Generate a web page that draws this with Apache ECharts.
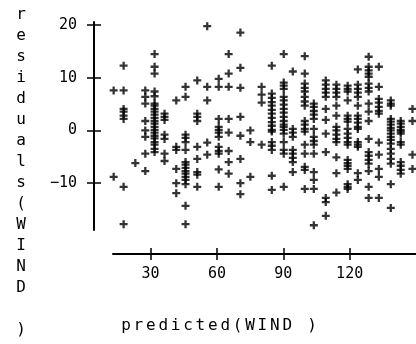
<!DOCTYPE html>
<html>
<head>
<meta charset="utf-8">
<script src="https://cdn.jsdelivr.net/npm/echarts@6/dist/echarts.min.js"></script>
<style>
html, body { margin: 0; padding: 0; background: #fff; }
#chart { width: 416px; height: 344px; }
</style>
</head>
<body>
<div id="chart"></div>
<script>
// predicted value of each column
const predicted = [13.3, 17.8, 23.1, 27.6, 31.8, 36.3, 41.6, 45.8, 51.1, 55.6,
  60.8, 65.3, 70.6, 75.1, 80.2, 84.8, 90.2, 94.3, 99.7, 103.8,
  109.2, 114.0, 119.1, 123.7, 128.6, 133.2, 138.6, 143.1, 148.4]
// residuals in each column (same order as predicted)
const residuals = [
  [7.6, -8.8],
  [12.3, 7.6, 4.1, 3.6, 2.8, 2.2, -10.7, -17.8],
  [-6.2],
  [7.6, 6.4, 5.1, 1.8, 0, -1.2, -4.4, -7.7],
  [14.5, 12.1, 10.8, 7.4, 6.5, 5.1, 4.7, 4.1, 3.6, 3.0, 2.4, 1.8, 1.3, 0.7, 0.1, -0.4, -1.0, -1.5, -2.2, -2.7, -3.5, -4.1],
  [3.2, 2.6, 2.0, -0.8, -1.6, -4.4, -5.8],
  [5.7, -3.1, -3.7, -7.3, -10.0, -11.9],
  [8.3, 6.4, -0.8, -1.4, -2.2, -3.7, -6.0, -6.5, -7.1, -7.7, -8.2, -8.8, -9.4, -10.2, -14.3, -17.8],
  [9.5, 3.2, 2.6, 1.8, -3.1, -5.4, -7.9, -8.4, -10.7],
  [19.8, 8.3, 5.7, -2.3, -4.6],
  [9.8, 8.3, 2.2, 0.7, 0.1, -0.4, -1.2, -3.1, -3.9, -4.4, -7.4, -10.7],
  [14.5, 10.8, 8.3, 2.2, -0.4, -3.9, -6.0, -8.2],
  [18.6, 11.9, 8.1, 2.6, -1.0, -5.4, -10.0, -12.1],
  [0, -2.2, -8.8],
  [8.3, 6.8, 5.3, -2.7],
  [12.3, 7.0, 6.2, 5.4, 4.7, 3.9, 3.2, 2.4, 1.6, 0.9, 0.1, -0.2, -2.2, -2.9, -3.7, -8.6, -11.3],
  [14.5, 9.1, 8.5, 7.9, 6.4, 5.7, 4.9, 4.1, 3.4, 2.6, 1.8, 1.1, 0.7, 0.1, -0.6, -2.2, -3.7, -4.4, -10.7],
  [11.2, 0.3, -0.4, -1.2, -3.7, -4.4, -5.2, -6.0, -7.9],
  [14.1, 10.8, 8.9, 8.1, 7.4, 6.4, 5.5, 4.7, 1.8, 1.1, 0.3, -0.2, -2.7, -4.4, -6.9, -7.5, -11.1],
  [5.1, 4.5, 3.7, 3.0, 2.2, 0.3, -1.2, -2.0, -2.7, -4.4, -7.9, -9.4, -11.1, -18.0],
  [9.5, 8.7, 7.9, 7.2, 6.4, 4.1, 2.0, -0.6, -4.1, -12.8, -13.6, -16.2],
  [8.7, 7.9, 7.2, 6.4, 4.7, 2.8, 0.7, 0, -0.8, -1.6, -2.2, -5.1, -8.1, -11.8],
  [8.5, 7.9, 7.4, 5.7, 2.8, 2.2, 1.7, 0.3, -0.6, -1.4, -2.2, -2.7, -5.6, -6.2, -6.7, -7.3, -10.2, -10.7, -11.1],
  [11.6, 8.7, 7.9, 7.2, 6.4, 4.7, 2.8, 2.2, 1.5, 0.7, 0.3, -2.2, -2.7, -3.1, -8.1, -9.4],
  [14.0, 12.1, 11.4, 10.8, 10.2, 8.9, 8.1, 7.4, 5.1, 3.6, 1.8, -1.6, -4.1, -4.8, -5.6, -6.3, -7.7, -10.7, -12.8],
  [12.1, 8.3, 6.0, 5.3, 4.5, 3.7, 3.2, -2.3, -4.6, -7.3, -8.8, -12.8],
  [5.7, 5.1, 4.7, 2.2, 1.7, 1.1, 0.5, 0, -0.6, -1.2, -1.8, -2.5, -3.5, -4.4, -5.4, -6.3, -10.2, -14.7],
  [1.8, 1.3, 0.7, 0.1, -0.2, -0.6, -2.2, -2.7, -6.0, -6.7, -7.5, -8.2],
  [4.1, 1.8, -4.6, -7.3]
]
const xTicks = [30, 60, 90, 120]
const yTicks = [-10, 0, 10, 20]
const xTitle = 'predicted(WIND )'
const yTitle = 'residuals(WIND )'

var points = []
predicted.forEach(function (x, i) {
  residuals[i].forEach(function (r) {
    points.push([x, r])
  })
})

var font = '"DejaVu Sans Mono", monospace'
var xRange = { min: 13, max: 150 }
var yRange = { min: -18.9, max: 20.6 }

// axis titles, one glyph at a time (wide old-style spacing)
var titles = []
xTitle.split('').forEach(function (c, i) {
  titles.push({
    type: 'text', x: 126 + i * 12.4, y: 326,
    style: { text: c, fill: '#000', font: '16px ' + font, align: 'center', verticalAlign: 'middle' }
  })
})
yTitle.split('').forEach(function (c, i) {
  titles.push({
    type: 'text', x: 21, y: 15 + i * 21,
    style: { text: c, fill: '#000', font: '16px ' + font, align: 'center', verticalAlign: 'middle' }
  })
})

var tickStyle = { color: '#000', width: 1.5 }

var myChart = echarts.init(document.getElementById('chart'))
myChart.setOption({
  animation: false,
  backgroundColor: '#fff',
  grid: { left: 113, right: 0, top: 22, bottom: 114 },
  graphic: titles,
  xAxis: [
    {
      type: 'value', position: 'bottom', offset: 24,
      min: xRange.min, max: xRange.max,
      splitLine: { show: false },
      axisLine: { show: true, onZero: false, lineStyle: { color: '#000', width: 2 } },
      axisTick: { show: true, inside: false, length: 6, customValues: xTicks, lineStyle: tickStyle },
      axisLabel: { customValues: xTicks, margin: 13, color: '#000', fontFamily: font, fontSize: 15 }
    },
    {
      type: 'value', position: 'bottom', offset: 24,
      min: xRange.min, max: xRange.max,
      splitLine: { show: false },
      axisLine: { show: false, onZero: false },
      axisTick: { show: true, inside: true, length: 6, customValues: xTicks, lineStyle: tickStyle },
      axisLabel: { show: false }
    }
  ],
  yAxis: [
    {
      type: 'value', position: 'left', offset: 19,
      min: yRange.min, max: yRange.max,
      splitLine: { show: false },
      axisLine: { show: true, onZero: false, lineStyle: { color: '#000', width: 2 } },
      axisTick: { show: true, inside: false, length: 7, customValues: yTicks, lineStyle: tickStyle },
      axisLabel: {
        customValues: yTicks, margin: 17, color: '#000', fontFamily: font, fontSize: 15,
        formatter: function (v) { return v < 0 ? '\u2212' + Math.abs(v) : '' + v }
      }
    },
    {
      type: 'value', position: 'left', offset: 19,
      min: yRange.min, max: yRange.max,
      splitLine: { show: false },
      axisLine: { show: false, onZero: false },
      axisTick: { show: true, inside: true, length: 7, customValues: yTicks, lineStyle: tickStyle },
      axisLabel: { show: false }
    }
  ],
  series: [
    {
      type: 'scatter',
      xAxisIndex: 0,
      yAxisIndex: 0,
      symbol: 'path://M3,0h2.4v3h3v2.4h-3v3h-2.4v-3h-3v-2.4h3z',
      symbolSize: 8,
      itemStyle: { color: '#000' },
      silent: true,
      data: points
    }
  ]
})
window.addEventListener('resize', function () {
  myChart.resize()
})
</script>
</body>
</html>
